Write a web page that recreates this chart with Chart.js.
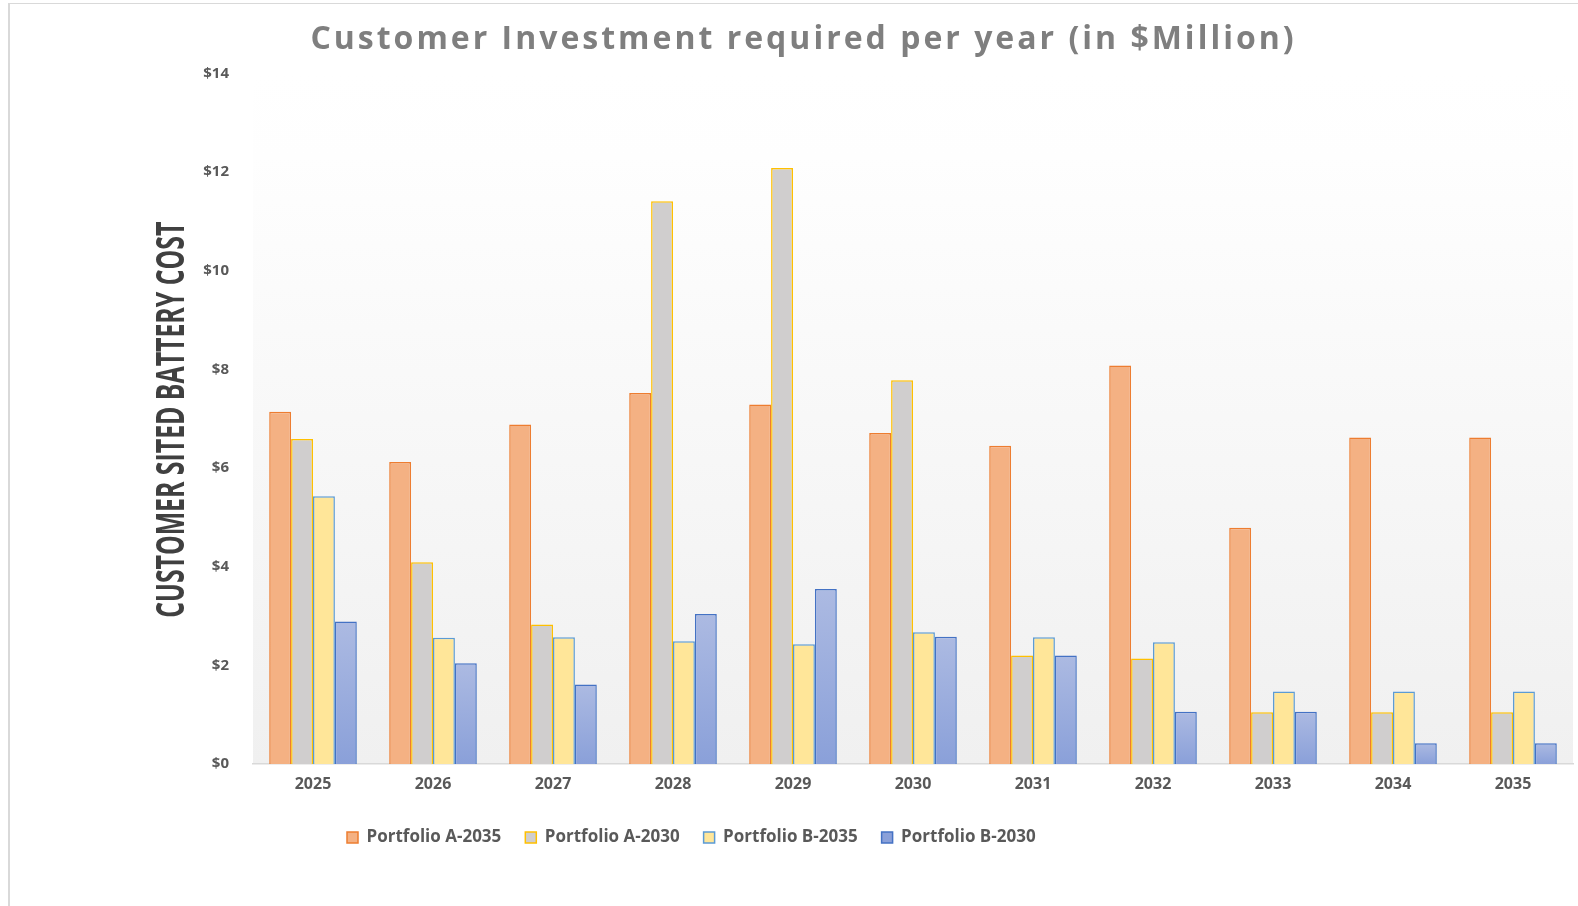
<!DOCTYPE html>
<html>
<head>
<meta charset="utf-8">
<script src="https://cdn.jsdelivr.net/npm/chart.js@4.4.1/dist/chart.umd.min.js"></script>
<style>
  html, body { margin: 0; padding: 0; background: #fff; overflow: hidden; }
  #wrap { position: absolute; left: 0; top: 0; width: 1578px; height: 906px; }
  #frame { position: absolute; left: 8px; top: 3px; width: 1600px; height: 920px;
           border-left: 2px solid #d9d9d9; border-top: 1px solid #d9d9d9; }
  canvas { position: absolute; left: 0; top: 0; }
</style>
</head>
<body>
<div id="wrap">
  <div id="frame"></div>
  <canvas id="chart" width="1578" height="906"></canvas>
</div>
<script>
// Data ($ million per year)
const years = ['2025', '2026', '2027', '2028', '2029', '2030', '2031', '2032', '2033', '2034', '2035'];
const portfolioA2035 = [7.14, 6.12, 6.88, 7.52, 7.29, 6.71, 6.45, 8.08, 4.79, 6.62, 6.62];
const portfolioA2030 = [6.59, 4.09, 2.83, 11.41, 12.08, 7.78, 2.20, 2.14, 1.05, 1.05, 1.05];
const portfolioB2035 = [5.43, 2.56, 2.57, 2.49, 2.43, 2.67, 2.57, 2.47, 1.47, 1.47, 1.47];
const portfolioB2030 = [2.89, 2.04, 1.61, 3.04, 3.55, 2.58, 2.20, 1.06, 1.06, 0.42, 0.42];
const yTickValues = [0, 2, 4, 6, 8, 10, 12, 14];
const yAxisTitle = 'CUSTOMER SITED BATTERY COST';

const TEXT_GREY = '#595959';
const FONT = "'Open Sans', 'Noto Sans', sans-serif";

// per-bar vertical gradient for the dark blue series
function blueFill(c) {
  const chart = c.chart;
  if (c.type !== 'data' || !chart.chartArea || !c.parsed) return '#96a9dc';
  const y = chart.scales.y;
  const top = y.getPixelForValue(c.parsed.y);
  const bottom = y.getPixelForValue(0);
  if (!isFinite(top) || bottom - top < 1) return '#96a9dc';
  const g = chart.ctx.createLinearGradient(0, top, 0, bottom);
  g.addColorStop(0, '#acbae2');
  g.addColorStop(1, '#8aa0d9');
  return g;
}

// light grey gradient behind the plot area
const plotBackground = {
  id: 'plotBackground',
  beforeDraw(chart) {
    const { ctx, chartArea: a } = chart;
    const g = ctx.createLinearGradient(0, a.top, 0, a.bottom);
    g.addColorStop(0, '#ffffff');
    g.addColorStop(0.12, '#fefefe');
    g.addColorStop(1, '#f0f0f0');
    ctx.save();
    ctx.fillStyle = g;
    ctx.fillRect(a.left, a.top, a.right - a.left, a.bottom - a.top);
    ctx.restore();
  }
};

// legend sits left of centre in the original; title is letter-spaced
const layoutTweaks = {
  id: 'layoutTweaks',
  afterLayout(chart) {
    const lg = chart.legend;
    lg.left = 347 - lg.options.labels.padding;

    const tb = chart.titleBlock;
    if (tb && !tb._spaced) {
      const draw = tb.draw.bind(tb);
      tb.draw = function (area) {
        chart.ctx.save();
        chart.ctx.letterSpacing = '3px';
        draw(area);
        chart.ctx.restore();
      };
      tb._spaced = true;
    }
  }
};

// condensed rotated y-axis title (no narrow font installed)
const condensedYTitle = {
  id: 'condensedYTitle',
  afterDraw(chart) {
    const { ctx } = chart;
    const a = chart.chartArea;
    ctx.save();
    ctx.font = "bold 39px 'Open Sans', sans-serif";
    ctx.fillStyle = '#404040';
    ctx.textAlign = 'center';
    ctx.textBaseline = 'middle';
    const w = ctx.measureText(yAxisTitle).width;
    const target = 396;
    ctx.translate(173, (a.top + a.bottom) / 2 + 1);
    ctx.rotate(-Math.PI / 2);
    ctx.scale(target / w, 1);
    ctx.fillText(yAxisTitle, 0, 0);
    ctx.restore();
  }
};

new Chart(document.getElementById('chart'), {
  type: 'bar',
  data: {
    labels: years,
    datasets: [
      {
        label: 'Portfolio A-2035',
        data: portfolioA2035,
        backgroundColor: '#f4b183',
        borderColor: '#ed7d31',
        borderWidth: 1.5,
      },
      {
        label: 'Portfolio A-2030',
        data: portfolioA2030,
        backgroundColor: '#d0cece',
        borderColor: '#ffc000',
        borderWidth: 1.5,
      },
      {
        label: 'Portfolio B-2035',
        data: portfolioB2035,
        backgroundColor: '#ffe699',
        borderColor: '#5b9bd5',
        borderWidth: 1.5,
      },
      {
        label: 'Portfolio B-2030',
        data: portfolioB2030,
        backgroundColor: blueFill,
        borderColor: '#4472c4',
        borderWidth: 1.5,
      },
    ],
  },
  plugins: [plotBackground, layoutTweaks, condensedYTitle],
  options: {
    responsive: false,
    animation: false,
    categoryPercentage: 0.73,
    barPercentage: 1.0,
    layout: {
      padding: { left: 34, right: 5, top: 0, bottom: 50 },
    },
    plugins: {
      title: {
        display: true,
        text: 'Customer Investment required per year (in $Million)',
        color: '#7f7f7f',
        font: { family: FONT, size: 32, weight: 'bold' },
        padding: { top: 21, bottom: 14 },
      },
      legend: {
        position: 'bottom',
        align: 'start',
        labels: {
          color: TEXT_GREY,
          font: { family: FONT, size: 17, weight: 'bold' },
          boxWidth: 11,
          boxHeight: 11,
          padding: 24,
        },
      },
      tooltip: { enabled: false },
    },
    scales: {
      x: {
        grid: { display: false, drawTicks: false },
        border: { display: true, color: '#d9d9d9', width: 1.5 },
        ticks: {
          color: TEXT_GREY,
          font: { family: FONT, size: 16, weight: 'bold' },
          padding: 11,
        },
        afterFit: s => { s.height = 41; },
      },
      y: {
        min: 0,
        max: 14,
        afterBuildTicks: s => { s.ticks = yTickValues.map(v => ({ value: v })); },
        grid: { display: false, drawTicks: false },
        border: { display: false },
        ticks: {
          color: TEXT_GREY,
          font: { family: FONT, size: 15, weight: 'bold' },
          padding: 24,
          callback: v => '$' + v,
        },
        afterFit: s => { s.width = 219; },
      },
    },
  },
});
</script>
</body>
</html>
